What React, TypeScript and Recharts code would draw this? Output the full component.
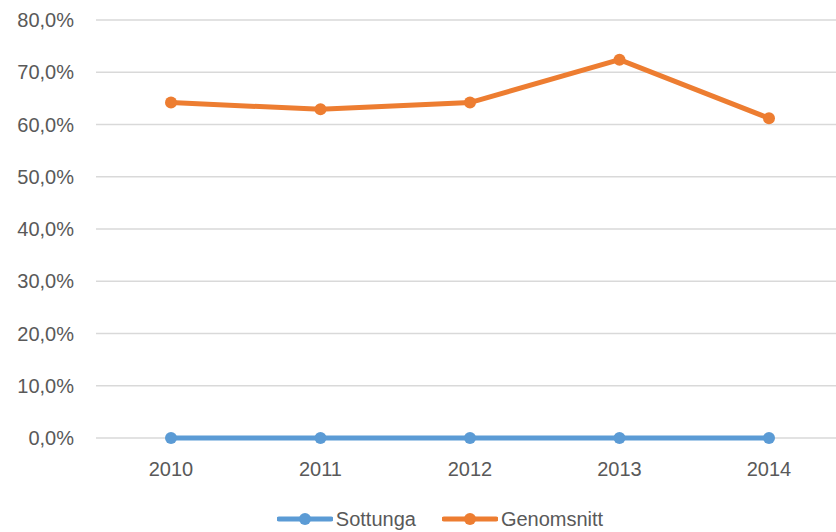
import React from 'react';
import { LineChart, Line, XAxis, YAxis, CartesianGrid, Legend } from 'recharts';

const years = ['2010', '2011', '2012', '2013', '2014'];
const sottunga = [0, 0, 0, 0, 0];
const genomsnitt = [64.2, 62.9, 64.2, 72.4, 61.2];
const yTicks = [0, 10, 20, 30, 40, 50, 60, 70, 80];

const data = years.map((y, i) => ({ year: y, Sottunga: sottunga[i], Genomsnitt: genomsnitt[i] }));

const FONT = '"Liberation Sans", Arial, sans-serif';
const BLUE = '#5B9BD5';
const ORANGE = '#ED7D31';

const fmt = (v: number) => v.toFixed(1).replace('.', ',') + '%';

const LegendContent = () => {
  const items = [
    { name: 'Sottunga', color: BLUE },
    { name: 'Genomsnitt', color: ORANGE },
  ];
  return (
    <div style={{ height: 34, display: 'flex', justifyContent: 'center', alignItems: 'center', paddingLeft: 36 }}>
      {items.map((it, i) => (
        <div key={it.name} style={{ display: 'flex', alignItems: 'center', marginLeft: i === 0 ? 0 : 26 }}>
          <svg width={56} height={14} style={{ display: 'block' }}>
            <line x1={2} y1={7} x2={54} y2={7} stroke={it.color} strokeWidth={5} strokeLinecap="round" />
            <circle cx={28} cy={7} r={6} fill={it.color} />
          </svg>
          <span style={{ fontFamily: FONT, fontSize: 20, color: '#595959', marginLeft: 3, lineHeight: '24px' }}>{it.name}</span>
        </div>
      ))}
    </div>
  );
};

export default function App() {
  return (
    <div style={{ position: 'fixed', left: 0, top: 0, width: 836, height: 532, overflow: 'hidden', background: '#fff' }}>
      <LineChart width={850} height={532} data={data} margin={{ top: 20, right: 6, bottom: 0, left: 0 }}>
        <CartesianGrid vertical={false} stroke="#d9d9d9" strokeWidth={1.3} />
        <XAxis
          dataKey="year"
          axisLine={false}
          tickLine={false}
          tickSize={0}
          tickMargin={24}
          height={60}
          padding={{ left: 75, right: 75 }}
          tick={{ fontFamily: FONT, fontSize: 20, fill: '#595959' }}
        />
        <YAxis
          domain={[0, 80]}
          ticks={yTicks}
          tickFormatter={fmt}
          axisLine={false}
          tickLine={false}
          tickSize={0}
          tickMargin={22}
          width={96}
          tick={{ fontFamily: FONT, fontSize: 20, fill: '#595959' }}
        />
        <Legend
          verticalAlign="bottom"
          content={<LegendContent />}
          wrapperStyle={{ top: 502, bottom: 'auto', height: 34 }}
        />
        <Line
          dataKey="Sottunga"
          stroke={BLUE}
          strokeWidth={5}
          dot={{ r: 6, fill: BLUE, stroke: BLUE, strokeWidth: 0 }}
          isAnimationActive={false}
        />
        <Line
          dataKey="Genomsnitt"
          stroke={ORANGE}
          strokeWidth={5}
          dot={{ r: 6, fill: ORANGE, stroke: ORANGE, strokeWidth: 0 }}
          isAnimationActive={false}
        />
      </LineChart>
    </div>
  );
}
